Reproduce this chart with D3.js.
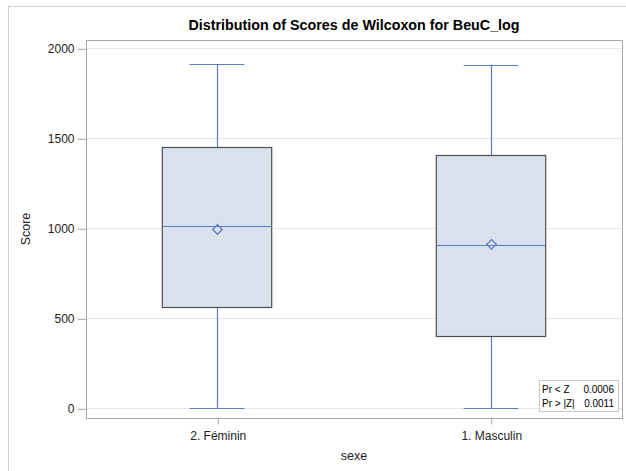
<!DOCTYPE html>
<html>
<head>
<meta charset="utf-8">
<script src="https://cdn.jsdelivr.net/npm/d3@7"></script>
<style>
  body { margin: 0; background: #fff; }
  text { font-family: "Liberation Sans", Arial, sans-serif; }
</style>
</head>
<body>
<svg id="chart" width="626" height="471"></svg>
<script>
// values
var categories = ["2. Féminin", "1. Masculin"];
var whiskerLow = [3, 1];
var q1 = [564, 402];
var median = [1011, 906];
var q3 = [1450, 1407];
var whiskerHigh = [1913, 1909];
var means = [993, 911];
var yTicks = [0, 500, 1000, 1500, 2000];
var statLabels = ["Pr < Z", "Pr > |Z|"];
var statValues = ["0.0006", "0.0011"];

var FRAME = { left: 86, right: 622, top: 40, bottom: 418 };
var BLUE = "#5b7cc8";
var BOX_FILL = "#d9e1ec";
var BOX_LINE = "#4f4f4f";

var svg = d3.select("#chart");

// outer border (cut off at right/bottom in the picture)
svg.append("rect")
    .attr("x", 8.5).attr("y", 6.5)
    .attr("width", 640).attr("height", 480)
    .attr("fill", "none")
    .attr("stroke", "#d0d0d0");

var x = d3.scalePoint()
    .domain(categories)
    .range([FRAME.left, FRAME.right])
    .padding(0.48);

var y = d3.scaleLinear()
    .domain([0, 2000])
    .range([408.3, 48.3]);

var step = x.step();
var boxW = step * 0.4;
var capW = boxW / 2;

// gridlines
svg.append("g")
    .selectAll("line")
    .data(yTicks)
    .join("line")
    .attr("x1", FRAME.left).attr("x2", FRAME.right)
    .attr("y1", function(d) { return Math.round(y(d)) + 0.5; })
    .attr("y2", function(d) { return Math.round(y(d)) + 0.5; })
    .attr("stroke", "#e6e6e6");

// plot frame
svg.append("rect")
    .attr("x", FRAME.left + 0.5).attr("y", FRAME.top + 0.5)
    .attr("width", FRAME.right - FRAME.left)
    .attr("height", FRAME.bottom - FRAME.top)
    .attr("fill", "none")
    .attr("stroke", "#a8a8a8");

// y axis
var yAxis = d3.axisLeft(y)
    .tickValues(yTicks)
    .tickFormat(d3.format("d"))
    .tickSize(9)
    .tickPadding(3)
    .tickSizeOuter(0);

var yAxisG = svg.append("g")
    .attr("transform", "translate(" + (FRAME.left + 0.5) + ",0.5)")
    .call(yAxis);
yAxisG.select(".domain").remove();
yAxisG.selectAll(".tick line").attr("stroke", "#a8a8a8");
yAxisG.selectAll(".tick text")
    .attr("font-size", "12px")
    .attr("fill", "#222")
    .style("font-family", "'Liberation Sans', Arial, sans-serif");

// x axis
var xAxis = d3.axisBottom(x)
    .tickSize(6)
    .tickPadding(7)
    .tickSizeOuter(0);

var xAxisG = svg.append("g")
    .attr("transform", "translate(0.5," + (FRAME.bottom + 0.5) + ")")
    .call(xAxis);
xAxisG.select(".domain").remove();
xAxisG.selectAll(".tick line").attr("stroke", "#a8a8a8");
xAxisG.selectAll(".tick text")
    .attr("font-size", "12px")
    .attr("fill", "#222")
    .style("font-family", "'Liberation Sans', Arial, sans-serif");

// boxes
var boxes = svg.append("g")
    .selectAll("g")
    .data(categories)
    .join("g")
    .attr("transform", function(d) { return "translate(" + Math.round(x(d)) + ",0)"; });

// whisker stems
boxes.append("line")
    .attr("x1", 0.5).attr("x2", 0.5)
    .attr("y1", function(d, i) { return y(whiskerHigh[i]); })
    .attr("y2", function(d, i) { return y(q3[i]); })
    .attr("stroke", BLUE)
    .attr("stroke-width", 1.2);
boxes.append("line")
    .attr("x1", 0.5).attr("x2", 0.5)
    .attr("y1", function(d, i) { return y(q1[i]); })
    .attr("y2", function(d, i) { return y(whiskerLow[i]); })
    .attr("stroke", BLUE)
    .attr("stroke-width", 1.2);

// whisker caps
boxes.append("line")
    .attr("x1", -capW / 2).attr("x2", capW / 2)
    .attr("y1", function(d, i) { return Math.round(y(whiskerHigh[i])) + 0.5; })
    .attr("y2", function(d, i) { return Math.round(y(whiskerHigh[i])) + 0.5; })
    .attr("stroke", BLUE)
    .attr("stroke-width", 1.2);
boxes.append("line")
    .attr("x1", -capW / 2).attr("x2", capW / 2)
    .attr("y1", function(d, i) { return Math.round(y(whiskerLow[i])) + 0.5; })
    .attr("y2", function(d, i) { return Math.round(y(whiskerLow[i])) + 0.5; })
    .attr("stroke", BLUE)
    .attr("stroke-width", 1.2);

// box body
boxes.append("rect")
    .attr("x", -boxW / 2)
    .attr("y", function(d, i) { return Math.round(y(q3[i])) + 0.5; })
    .attr("width", boxW)
    .attr("height", function(d, i) { return Math.round(y(q1[i])) - Math.round(y(q3[i])); })
    .attr("fill", BOX_FILL)
    .attr("stroke", BOX_LINE)
    .attr("stroke-width", 1.2);

// median
boxes.append("line")
    .attr("x1", -boxW / 2).attr("x2", boxW / 2)
    .attr("y1", function(d, i) { return Math.round(y(median[i])) + 0.5; })
    .attr("y2", function(d, i) { return Math.round(y(median[i])) + 0.5; })
    .attr("stroke", BLUE)
    .attr("stroke-width", 1.2);

// mean diamond
boxes.append("path")
    .attr("d", d3.symbol().type(d3.symbolDiamond2).size(58))
    .attr("transform", function(d, i) { return "translate(0.5," + y(means[i]) + ")"; })
    .attr("fill", "none")
    .attr("stroke", BLUE)
    .attr("stroke-width", 1.3);

// title
svg.append("text")
    .attr("x", (FRAME.left + FRAME.right) / 2)
    .attr("y", 29.5)
    .attr("text-anchor", "middle")
    .attr("font-size", "14.3px")
    .attr("font-weight", "bold")
    .attr("fill", "#000")
    .text("Distribution of Scores de Wilcoxon for BeuC_log");

// axis labels
svg.append("text")
    .attr("transform", "translate(30," + ((FRAME.top + FRAME.bottom) / 2) + ")rotate(-90)")
    .attr("text-anchor", "middle")
    .attr("font-size", "12.5px")
    .attr("fill", "#222")
    .text("Score");

svg.append("text")
    .attr("x", (FRAME.left + FRAME.right) / 2)
    .attr("y", 460)
    .attr("text-anchor", "middle")
    .attr("font-size", "12.5px")
    .attr("fill", "#222")
    .text("sexe");

// statistics inset
var inset = svg.append("g").attr("transform", "translate(539,380)");
inset.append("rect")
    .attr("x", 0.5).attr("y", 0.5)
    .attr("width", 79).attr("height", 31)
    .attr("fill", "#fff")
    .attr("stroke", "#c8c8c8");
inset.selectAll("text.lab")
    .data(statLabels)
    .join("text")
    .attr("class", "lab")
    .attr("x", 3)
    .attr("y", function(d, i) { return 12.5 + i * 14.5; })
    .attr("font-size", "10px")
    .attr("fill", "#000")
    .text(function(d) { return d; });
inset.selectAll("text.val")
    .data(statValues)
    .join("text")
    .attr("class", "val")
    .attr("x", 75)
    .attr("y", function(d, i) { return 12.5 + i * 14.5; })
    .attr("text-anchor", "end")
    .attr("font-size", "10px")
    .attr("fill", "#000")
    .text(function(d) { return d; });
</script>
</body>
</html>
